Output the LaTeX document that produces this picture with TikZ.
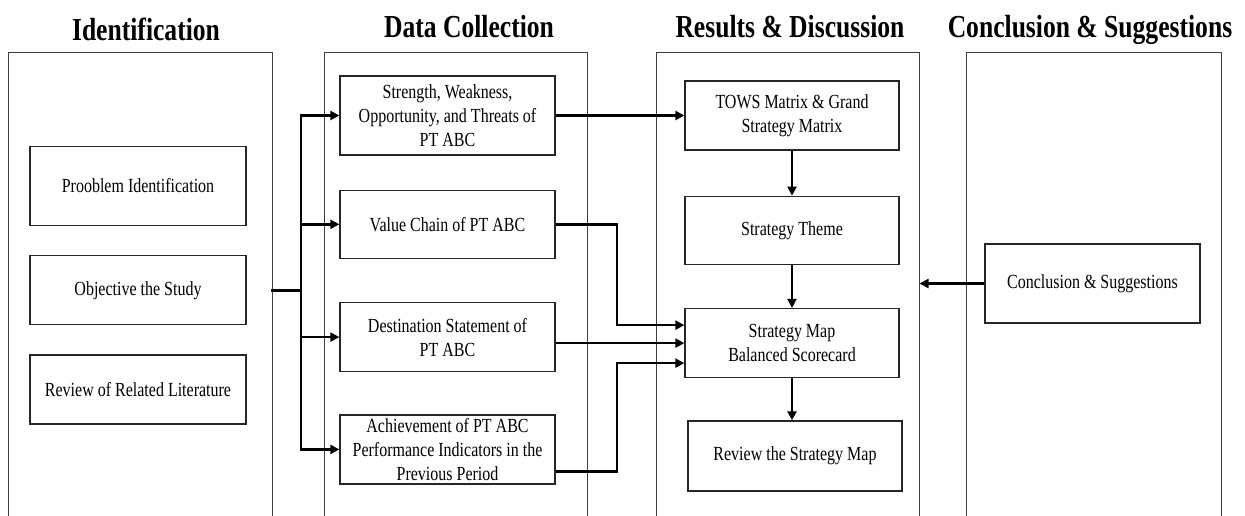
\documentclass[tikz,border=0pt]{standalone}
\usepackage{fontspec}
\setmainfont{Liberation Serif}[FakeStretch=0.8]
\usetikzlibrary{arrows.meta, positioning, calc}
\tikzset{
  panel/.style={rectangle, draw=black!75, line width=1pt, minimum width=263pt,
                minimum height=480pt, anchor=north},
  heading/.style={font=\fontsize{32}{36}\selectfont\bfseries, anchor=base, inner sep=0pt},
  block/.style={rectangle, draw=black!85, line width=1.3pt, minimum width=215pt,
                minimum height=69pt, align=center, inner xsep=2pt, inner ysep=0pt,
                font=\fontsize{20}{24}\selectfont},
  tallblock/.style={block, minimum height=79pt},
  arrow/.style={-{Triangle[length=9pt,width=9pt]}, line width=2.4pt},
  link/.style={line width=2.4pt, line cap=rect}
}

\begin{document}
\begin{tikzpicture}[x=1pt, y=-1pt]
  \useasboundingbox (0,0) rectangle (1245,515);
  \clip (0,0) rectangle (1245,515);

  % Column panels
  \node[panel, minimum width=264pt] (idpanel) at (140,52) {};
  \node[panel] (dcpanel) at (455.5,52) {};
  \node[panel] (rdpanel) at (787.5,52) {};
  \node[panel, minimum width=255pt] (cspanel) at (1093.5,52) {};

  % Headings
  \node[heading] (idhead) at (146,40) {Identification};
  \node[heading] (dchead) at (469,37) {Data Collection};
  \node[heading] (rdhead) at (790,37) {Results \& Discussion};
  \node[heading] (cshead) at (1090,37) {Conclusion \& Suggestions};

  % Identification
  \node[tallblock, minimum width=216pt] (problem) at (138,186) {Prooblem Identification};
  \node[block, minimum width=216pt, below=29pt of problem] (objective) {Objective the Study};
  \node[block, minimum width=216pt, below=29pt of objective] (review) {Review of Related Literature};

  % Data collection
  \node[tallblock] (swot) at (447.5,115.5) {Strength, Weakness,\\Opportunity, and Threats of\\PT ABC};
  \node[block, minimum height=68pt, below=34pt of swot] (chain) {Value Chain of PT ABC};
  \node[block, below=43pt of chain] (dest) {Destination Statement of\\PT ABC};
  \node[block, below=42pt of dest] (achieve) {Achievement of PT ABC\\Performance Indicators in the\\Previous Period};

  % Results & discussion
  \node[block, minimum width=214pt] (tows) at (792,115.5) {TOWS Matrix \& Grand\\Strategy Matrix};
  \node[block, minimum width=214pt, minimum height=68pt, below=45pt of tows] (theme) {Strategy Theme};
  \node[block, minimum width=214pt, below=43pt of theme] (map) {Strategy Map\\Balanced Scorecard};
  \node[block, minimum width=214pt, minimum height=70pt, below=42pt of map, xshift=3pt] (check) {Review the Strategy Map};

  % Conclusion
  \node[tallblock] (concl) at (1092.5,283.5) {Conclusion \& Suggestions};

  % Split towards data collection
  \coordinate (trunk) at (301,0);
  \draw[link] (idpanel.east |- objective) -- (trunk |- objective);
  \draw[link] (trunk |- swot) -- (trunk |- achieve);
  \foreach \b in {swot, chain, dest, achieve}
    \draw[arrow] (trunk |- \b) -- (\b.west);

  % Data collection to results
  \coordinate (jog) at (617,0);
  \coordinate[above=18pt of map.west] (mapin1);
  \coordinate[below=20pt of map.west] (mapin3);
  \coordinate[below=22pt of achieve.east] (achout);
  \draw[arrow] (swot.east) -- (swot.east -| tows.west);
  \draw[arrow] (chain.east) -| (jog |- mapin1) -- (mapin1);
  \draw[arrow] (dest.east |- map) -- (map.west);
  \draw[arrow] (achout) -| (jog |- mapin3) -- (mapin3);

  % Results chain
  \draw[arrow] (tows.south) -- (tows.south |- theme.north);
  \draw[arrow] (theme.south) -- (theme.south |- map.north);
  \draw[arrow] (map.south) -- (map.south |- check.north);

  % Conclusion back to results
  \draw[arrow] (concl.west) -- (concl.west -| rdpanel.east);
\end{tikzpicture}
\end{document}
